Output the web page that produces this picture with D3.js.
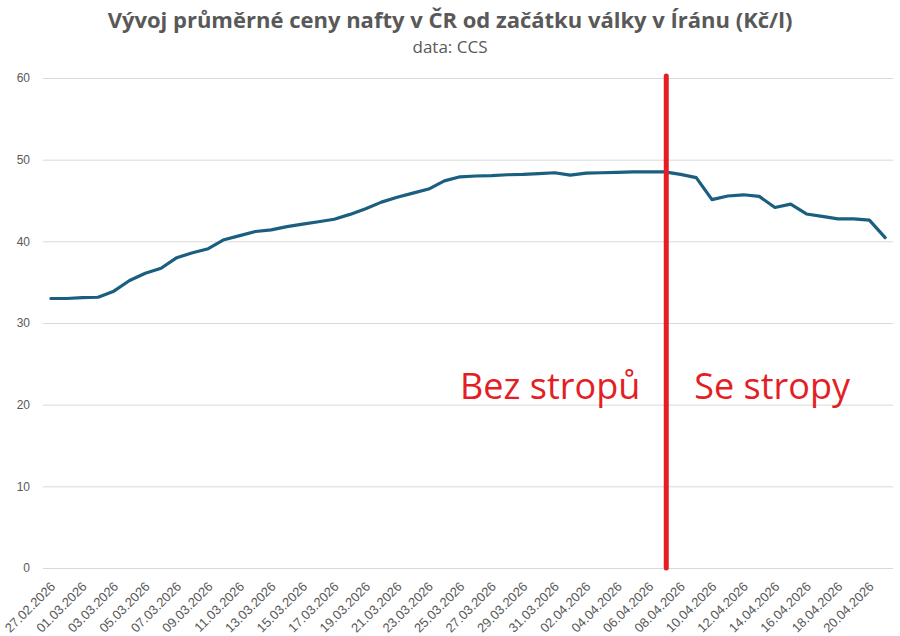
<!DOCTYPE html>
<html>
<head>
<meta charset="utf-8">
<script src="https://cdn.jsdelivr.net/npm/d3@7"></script>
<style>
  body { margin: 0; background: #fff; }
  svg { font-family: "Liberation Sans", Arial, sans-serif; }
</style>
</head>
<body>
<div id="chart"></div>
<script>
// data
var dates = [
    "27.02.2026", "28.02.2026", "01.03.2026", "02.03.2026", "03.03.2026", "04.03.2026",
    "05.03.2026", "06.03.2026", "07.03.2026", "08.03.2026", "09.03.2026", "10.03.2026",
    "11.03.2026", "12.03.2026", "13.03.2026", "14.03.2026", "15.03.2026", "16.03.2026",
    "17.03.2026", "18.03.2026", "19.03.2026", "20.03.2026", "21.03.2026", "22.03.2026",
    "23.03.2026", "24.03.2026", "25.03.2026", "26.03.2026", "27.03.2026", "28.03.2026",
    "29.03.2026", "30.03.2026", "31.03.2026", "01.04.2026", "02.04.2026", "03.04.2026",
    "04.04.2026", "05.04.2026", "06.04.2026", "07.04.2026", "08.04.2026", "09.04.2026",
    "10.04.2026", "11.04.2026", "12.04.2026", "13.04.2026", "14.04.2026", "15.04.2026",
    "16.04.2026", "17.04.2026", "18.04.2026", "19.04.2026", "20.04.2026", "21.04.2026"
];
var prices = [
    33.0, 33.0, 33.1, 33.15, 33.9, 35.2, 36.1, 36.7, 38.0, 38.6,
    39.1, 40.2, 40.7, 41.2, 41.4, 41.8, 42.1, 42.4, 42.7, 43.3,
    44.0, 44.8, 45.4, 45.9, 46.4, 47.4, 47.9, 48.0, 48.05, 48.15,
    48.2, 48.3, 48.4, 48.1, 48.35, 48.4, 48.45, 48.5, 48.5, 48.5,
    48.2, 47.8, 45.1, 45.55, 45.7, 45.5, 44.15, 44.55, 43.35, 43.05,
    42.75, 42.75, 42.6, 40.45
];
var yTicks = [0, 10, 20, 30, 40, 50, 60];
var splitDate = "07.04.2026";
var labelLeft = "Bez stropů";
var labelRight = "Se stropy";

var width = 900;
var height = 636;
var margin = { top: 78, right: 7, bottom: 68, left: 43 };

var svg = d3.select('#chart')
    .append('svg')
    .attr('width', width)
    .attr('height', height);

var xscale = d3.scaleBand()
    .domain(dates)
    .range([margin.left, width - margin.right]);

var yscale = d3.scaleLinear()
    .domain([0, 60])
    .range([height - margin.bottom, margin.top]);

// title
svg.append("text")
    .attr("x", 450)
    .attr("y", 28)
    .attr("text-anchor", "middle")
    .style("font-family", "'Open Sans', sans-serif")
    .style("font-size", "22px")
    .style("font-weight", "bold")
    .style("fill", "#595959")
    .text("Vývoj průměrné ceny nafty v ČR od začátku války v Íránu (Kč/l)");

svg.append("text")
    .attr("x", 450)
    .attr("y", 53)
    .attr("text-anchor", "middle")
    .style("font-family", "'Open Sans', sans-serif")
    .style("font-size", "17px")
    .style("fill", "#595959")
    .text("data: CCS");

// gridlines + y labels
var yaxis = d3.axisLeft(yscale)
    .tickValues(yTicks)
    .tickSize(-(width - margin.left - margin.right))
    .tickPadding(13);

var gy = svg.append("g")
    .attr("transform", "translate(" + margin.left + ",0)")
    .call(yaxis);
gy.select(".domain").remove();
gy.selectAll(".tick line").attr("stroke", "#d9d9d9");
gy.selectAll(".tick text")
    .style("font-family", "'Liberation Sans', Arial, sans-serif")
    .style("font-size", "12px")
    .style("fill", "#595959");

// x labels every 2nd day
var xaxis = d3.axisBottom(xscale)
    .tickValues(dates.filter((d, i) => i % 2 == 0))
    .tickSize(0);

var gx = svg.append("g")
    .attr("transform", "translate(0," + (height - margin.bottom) + ")")
    .call(xaxis);
gx.select(".domain").remove();
gx.selectAll(".tick text")
    .attr("text-anchor", "end")
    .attr("dy", "0.35em")
    .attr("transform", "translate(0,14) rotate(-45)")
    .style("font-family", "'Liberation Sans', Arial, sans-serif")
    .style("font-size", "13px")
    .style("fill", "#595959");

// price line
var line = d3.line()
    .x((d, i) => xscale(dates[i]) + xscale.bandwidth() / 2)
    .y(d => yscale(d));

svg.append("path")
    .datum(prices)
    .attr("fill", "none")
    .attr("stroke", "#1a5e80")
    .attr("stroke-width", 3.2)
    .attr("stroke-linejoin", "round")
    .attr("stroke-linecap", "round")
    .attr("d", line);

// split marker
var xs = xscale(splitDate) + xscale.bandwidth() / 2 + 1.5;
svg.append("line")
    .attr("x1", xs)
    .attr("x2", xs)
    .attr("y1", yscale(60) - 2)
    .attr("y2", yscale(0))
    .attr("stroke", "#e31e24")
    .attr("stroke-width", 5)
    .attr("stroke-linecap", "round");

svg.append("text")
    .attr("x", xs - 26)
    .attr("y", 399)
    .attr("text-anchor", "end")
    .style("font-size", "36px")
    .style("fill", "#e31e24")
    .style("font-family", "'Open Sans', sans-serif")
    .text(labelLeft);

svg.append("text")
    .attr("x", xs + 28)
    .attr("y", 399)
    .attr("text-anchor", "start")
    .style("font-size", "36px")
    .style("fill", "#e31e24")
    .style("font-family", "'Open Sans', sans-serif")
    .text(labelRight);
</script>
</body>
</html>
